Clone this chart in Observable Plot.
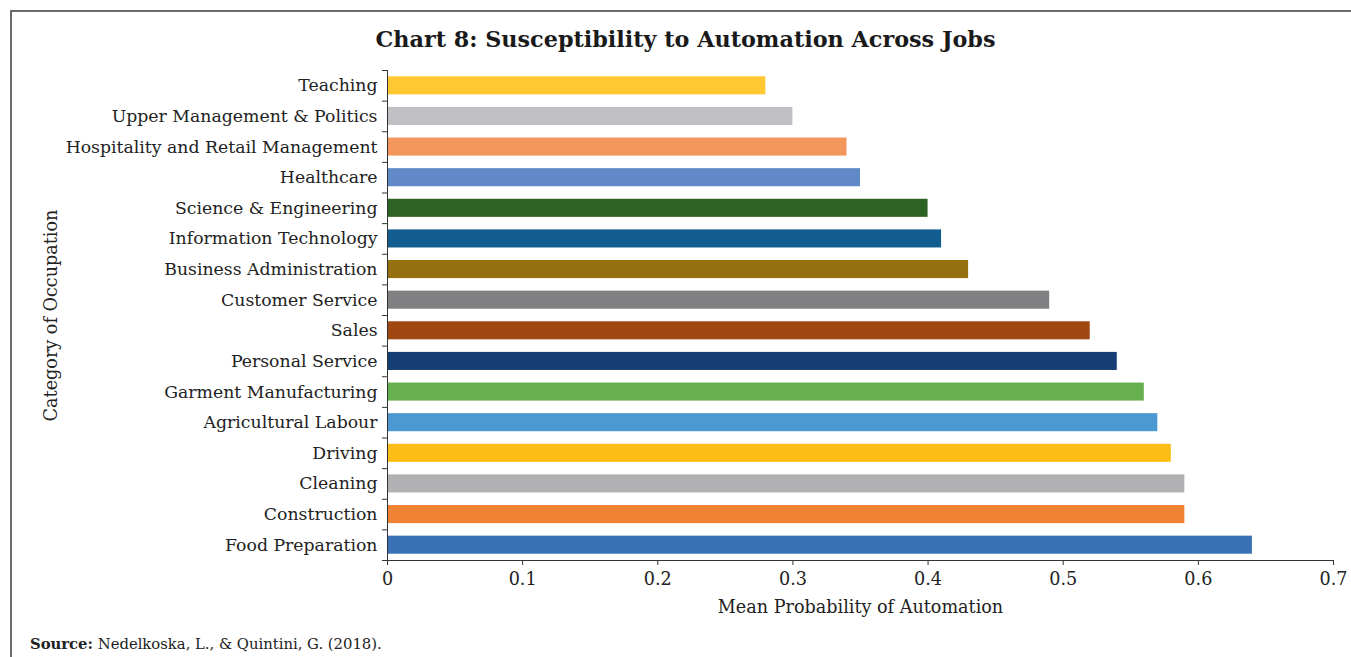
<!DOCTYPE html>
<html>
<head>
<meta charset="utf-8">
<script src="https://cdn.jsdelivr.net/npm/d3@7"></script>
<script src="https://cdn.jsdelivr.net/npm/@observablehq/plot@0.6"></script>
<style>
  html, body { margin: 0; padding: 0; background: #fff; }
  #wrap { position: relative; width: 1351px; height: 657px; overflow: hidden; font-family: "DejaVu Serif", serif; color: #222; }
  #border { position: absolute; left: 10px; top: 10px; right: -5px; bottom: -5px; border-top: 2px solid #6b6b6b; border-left: 2px solid #6b6b6b; }
  #title { position: absolute; left: 0; top: 26px; width: 1371px; text-align: center; font-weight: bold; font-size: 22.3px; color: #1a1a1a; }
  #chart { position: absolute; left: 0; top: 0; }
  #source { position: absolute; left: 30px; top: 635px; font-size: 14.8px; color: #222; }
</style>
</head>
<body>
<div id="wrap">
  <div id="border"></div>
  <div id="chart"></div>
  <div id="title">Chart 8: Susceptibility to Automation Across Jobs</div>
  <div id="source"><b>Source:</b> Nedelkoska, L., &amp; Quintini, G. (2018).</div>
</div>
<script>
const categories = [
  "Teaching", "Upper Management & Politics", "Hospitality and Retail Management",
  "Healthcare", "Science & Engineering", "Information Technology",
  "Business Administration", "Customer Service", "Sales", "Personal Service",
  "Garment Manufacturing", "Agricultural Labour", "Driving", "Cleaning",
  "Construction", "Food Preparation"
];
const values = [0.28, 0.30, 0.34, 0.35, 0.40, 0.41, 0.43, 0.49, 0.52, 0.54, 0.56, 0.57, 0.58, 0.59, 0.59, 0.64];
const colors = [
  "#FFC732", "#C0C0C4", "#F4975C", "#6289C7", "#2E6124", "#115D8F",
  "#94700F", "#808083", "#A04812", "#153F74", "#66B04F", "#4C98D3",
  "#FCBE17", "#B1B1B3", "#F08234", "#3A70B5"
];
const xTicks = [0, 0.1, 0.2, 0.3, 0.4, 0.5, 0.6, 0.7];

const data = categories.map((c, i) => ({category: c, value: values[i]}));

const W = 1351, H = 625, mTop = 70, mBottom = 65, mLeft = 387, mRight = 18;
const step = (H - mTop - mBottom) / categories.length;
const axisColor = "#333";

const chart = Plot.plot({
  width: W,
  height: H,
  marginTop: mTop,
  marginBottom: mBottom,
  marginLeft: mLeft,
  marginRight: mRight,
  style: {fontFamily: "DejaVu Serif, serif", fontSize: "16px", color: "#222", background: "transparent"},
  x: {domain: [0, 0.7]},
  y: {domain: categories, paddingInner: 0.41, paddingOuter: 0.205, round: false},
  color: {domain: categories, range: colors},
  marks: [
    Plot.barX(data, {x: "value", y: "category", fill: "category"}),
    Plot.frame({anchor: "left", stroke: axisColor, strokeOpacity: 1}),
    Plot.frame({anchor: "bottom", stroke: axisColor, strokeOpacity: 1}),
    Plot.axisY({tickSize: 0, tickPadding: 10, label: null, fontSize: 17.3}),
    Plot.axisY({tickSize: 0, tickFormat: () => "", label: "Category of Occupation", labelAnchor: "center", labelOffset: 343, fontSize: 17.6}),
    Plot.axisY({tickSize: 5, tickFormat: () => "", label: null, dy: step / 2, stroke: axisColor}),
    Plot.axisY({ticks: [categories[0]], tickSize: 5, tickFormat: () => "", label: null, dy: -step / 2, stroke: axisColor}),
    Plot.axisX({ticks: xTicks, tickSize: 5, tickPadding: 7, tickFormat: d => d === 0 ? "0" : d.toFixed(1), label: null, fontSize: 17.6, stroke: axisColor}),
    Plot.axisX({ticks: [], tickSize: 0, label: "Mean Probability of Automation", labelAnchor: "center", labelOffset: 52, labelArrow: "none", fontSize: 17.6})
  ]
});
document.getElementById("chart").appendChild(chart);
</script>
</body>
</html>
